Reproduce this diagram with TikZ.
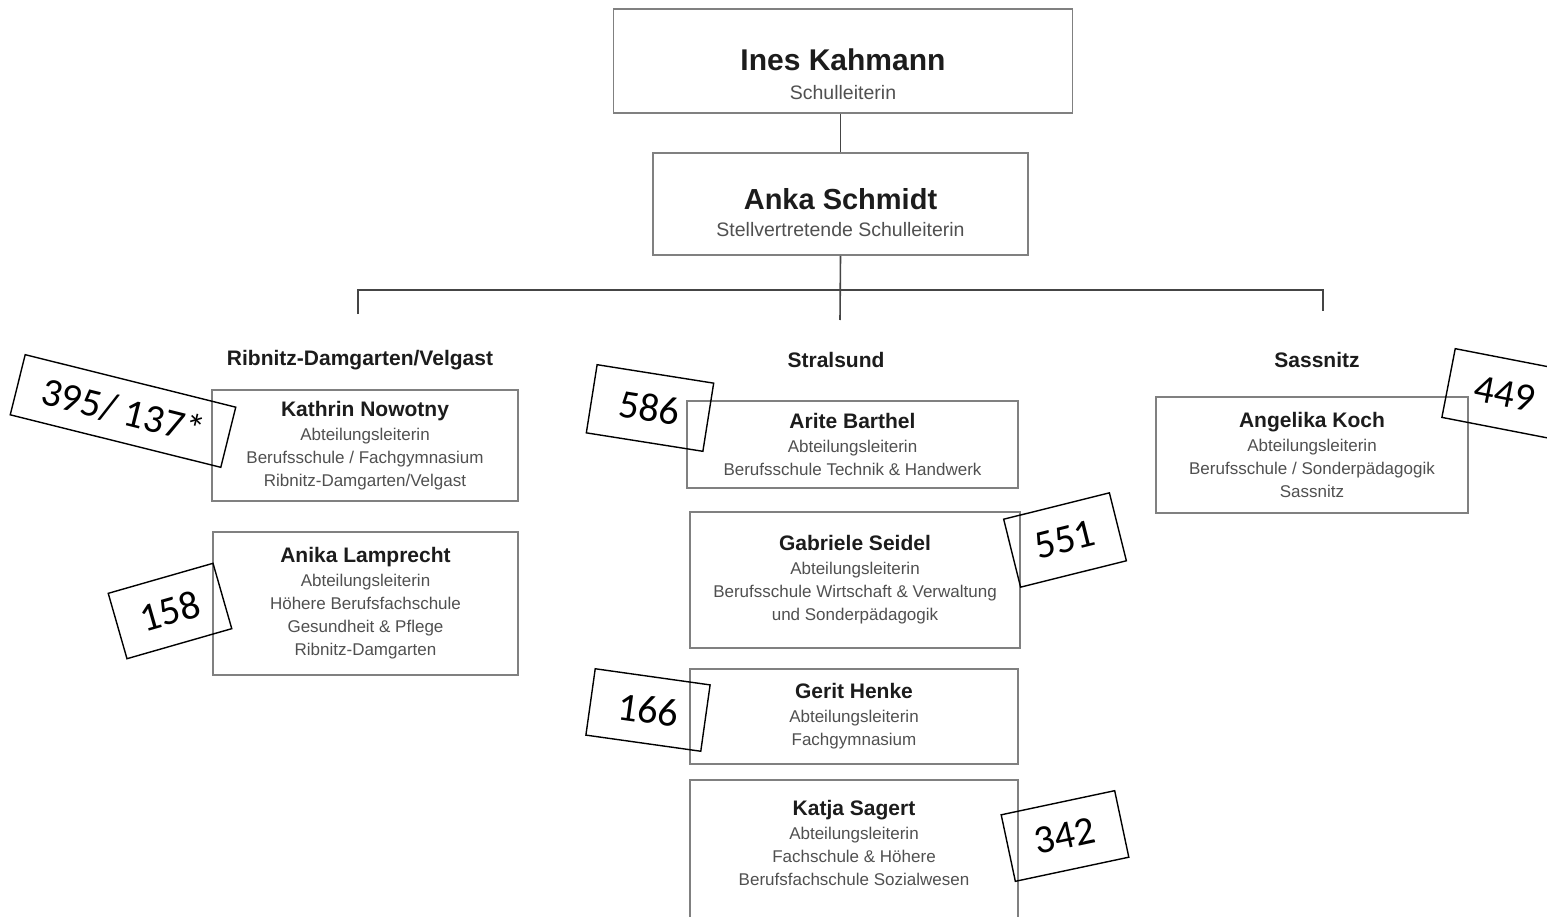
\documentclass[tikz,border=0pt]{standalone}
\usepackage{fontspec}
\setmainfont{Liberation Sans}
\newfontfamily\annfont{Carlito}
\definecolor{boxgray}{HTML}{808080}
\definecolor{linegray}{HTML}{454545}
\definecolor{namecol}{HTML}{1C1C1C}
\definecolor{subcol}{HTML}{505050}
\begin{document}
\begin{tikzpicture}[x=1pt,y=-1pt,
  orgbox/.style={draw=boxgray, line width=1.8pt, inner sep=0pt, align=center,
     font=\fontsize{17}{23}\selectfont, text=subcol},
  topbox/.style={draw=boxgray, line width=1.8pt, inner sep=0pt},
  toptext/.style={align=center, inner sep=0pt, text=subcol},
  hdr/.style={font=\fontsize{21}{25}\selectfont\bfseries, text=namecol, inner sep=0pt},
  conn/.style={draw=linegray, line width=1.6pt},
  ann/.style={draw=black, line width=1.4pt, inner sep=0pt, font=\annfont\fontsize{40}{44}\selectfont, text=black}
]
\newcommand{\nmA}[1]{{\fontsize{21}{25}\selectfont\bfseries\color{namecol}#1}}
\useasboundingbox (0,0) rectangle (1547,917);
\fill[white] (0,0) rectangle (1547,917);

% top boxes
\node[topbox, minimum width=459pt, minimum height=104pt] (ines) at (843,61) {};
\node[toptext, font=\fontsize{19.5}{29}\selectfont] (inest) at (843,74)
  {{\fontsize{30}{34}\selectfont\bfseries\color{namecol}Ines Kahmann}\\Schulleiterin};
\node[topbox, minimum width=375pt, minimum height=102pt] (anka) at (840.5,204) {};
\node[toptext, font=\fontsize{19.5}{27}\selectfont] (ankat) at (840.5,213)
  {{\fontsize{29}{33}\selectfont\bfseries\color{namecol}Anka Schmidt}\\Stellvertretende Schulleiterin};

% connectors
\coordinate (cdown) at (840,320);
\coordinate (bl) at (358,290);
\coordinate (br) at (1323,290);
\coordinate (bl2) at (358,314);
\coordinate (br2) at (1323,311);
\draw[conn] (ines.south -| anka.north) -- (anka.north);
\draw[conn] (anka.south) -- (cdown);
\draw[conn] (bl2) -- (bl) -- (br) -- (br2);

% headers
\node[hdr] (h1) at (360,360) {Ribnitz-Damgarten/Velgast};
\node[hdr] (h2) at (836,360) {Stralsund};
\node[hdr] (h3) at (1317,360) {Sassnitz};

% lower boxes
\node[orgbox, minimum width=306pt, minimum height=111pt] (kathrin) at (365,445.5)
  {\nmA{Kathrin Nowotny}\\[1pt]Abteilungsleiterin\\Berufsschule / Fachgymnasium\\Ribnitz-Damgarten/Velgast};
\node[orgbox, minimum width=305pt, minimum height=143pt] (anika) at (365.5,603.5)
  {\nmA{Anika Lamprecht}\\[1pt]Abteilungsleiterin\\Höhere Berufsfachschule\\Gesundheit \& Pflege\\Ribnitz-Damgarten};
\node[orgbox, minimum width=331pt, minimum height=87pt] (arite) at (852.5,444.5)
  {\nmA{Arite Barthel}\\[1pt]Abteilungsleiterin\\Berufsschule Technik \& Handwerk};
\node[orgbox, minimum width=330pt, minimum height=136pt] (gabriele) at (855,580)
  {\nmA{Gabriele Seidel}\\[1pt]Abteilungsleiterin\\Berufsschule Wirtschaft \& Verwaltung\\und Sonderpädagogik};
\node[orgbox, minimum width=328pt, minimum height=95pt] (gerit) at (854,716.5)
  {\nmA{Gerit Henke}\\[1pt]Abteilungsleiterin\\Fachgymnasium};
\draw[draw=boxgray, line width=1.8pt] (690,930) -- (690,780) -- (1018,780) -- (1018,930);
\node[orgbox, draw=none] (katja) at (854,843)
  {\nmA{Katja Sagert}\\[1pt]Abteilungsleiterin\\Fachschule \& Höhere\\Berufsfachschule Sozialwesen};
\node[orgbox, minimum width=312pt, minimum height=116pt] (angelika) at (1312,455)
  {\nmA{Angelika Koch}\\[1pt]Abteilungsleiterin\\Berufsschule / Sonderpädagogik\\Sassnitz};

% annotation boxes
\node[ann, minimum width=217pt, minimum height=62pt, rotate=-14] (a1) at (123,411) {395/ 137*};
\node[ann, minimum width=109pt, minimum height=68pt, rotate=16] (a2) at (170,611) {158};
\node[ann, minimum width=118pt, minimum height=69pt, rotate=-9] (a3) at (650,408) {586};
\node[ann, minimum width=109pt, minimum height=70pt, rotate=14] (a4) at (1065,540) {551};
\node[ann, minimum width=116pt, minimum height=67pt, rotate=-8] (a5) at (648,710) {166};
\node[ann, minimum width=116pt, minimum height=68pt, rotate=12] (a6) at (1065,836) {342};
\node[ann, minimum width=115pt, minimum height=70pt, rotate=-11] (a7) at (1505,394) {449};
\end{tikzpicture}
\end{document}
